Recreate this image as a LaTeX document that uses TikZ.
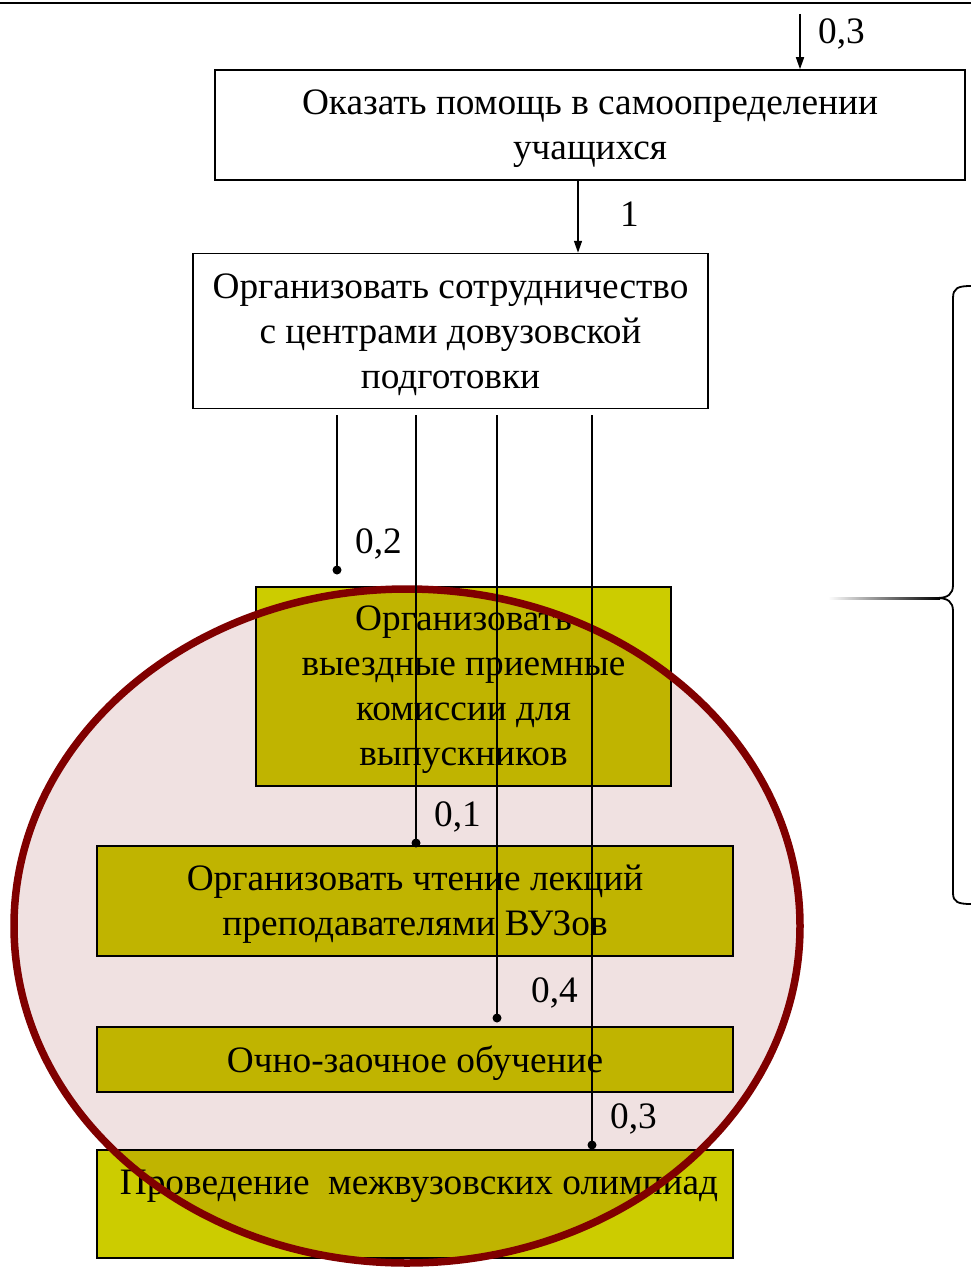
\documentclass[tikz,border=0pt]{standalone}
\usepackage{fontspec}
\setmainfont{Liberation Serif}
\usetikzlibrary{arrows.meta}
\definecolor{boxyellow}{RGB}{204,204,0}
\definecolor{pinkfill}{RGB}{240,225,225}
\definecolor{ellred}{RGB}{128,0,0}
\begin{document}
\begin{tikzpicture}[x=1pt,y=-1pt,
  txt/.style={font=\fontsize{37.3}{45}\selectfont, align=center, yshift=-3.5pt},
  wbox/.style={draw=black, line width=1.5pt, fill=white, inner sep=0pt},
  obox/.style={draw=black, line width=1.5pt, fill=boxyellow, inner sep=0pt},
  conn/.style={line width=1.5pt},
  arr/.style={line width=1.5pt, -{Triangle[length=12pt,width=8pt]}},
  dotend/.style={circle, fill=black, inner sep=0pt, minimum size=9pt},
  lbl/.style={font=\fontsize{37.3}{45}\selectfont, inner sep=0pt, yshift=-3pt}]
\useasboundingbox (0,0) rectangle (971,1268);
\fill[white] (0,0) rectangle (971,1268);
\draw[line width=2pt] (0,3) -- (971,3);

% white boxes
\node[wbox, minimum width=750, minimum height=110,
  label={[txt]center:{Оказать помощь в самоопределении\\учащихся}}] (b1) at (590,125) {};
\node[wbox, minimum width=515, minimum height=155,
  label={[txt]center:{Организовать сотрудничество\\с центрами довузовской\\подготовки}}] (b2) at (450.5,331) {};

% olive boxes
\node[obox, minimum width=415, minimum height=199,
  label={[txt]center:{Организовать\\выездные приемные\\комиссии для\\выпускников}}] (b3) at (463.5,686.5) {};
\node[obox, minimum width=636, minimum height=110,
  label={[txt]center:{Организовать чтение лекций\\преподавателями ВУЗов}}] (b4) at (415,901) {};
\node[obox, minimum width=636, minimum height=65,
  label={[txt]center:{Очно-заочное обучение}}] (b5) at (415,1059.5) {};
\node[obox, minimum width=636, minimum height=108] (b6) at (415,1204) {};
\node[txt] (t6) at (419,1183) {Проведение\ \ межвузовских олимпиад};

% ellipse overlay
\begin{scope}[blend mode=multiply]
  \fill[pinkfill] (407,926) ellipse [x radius=393, y radius=337];
\end{scope}
\draw[ellred, line width=7.5pt] (407,926) ellipse [x radius=393, y radius=337];

% top arrows
\coordinate (top) at (800,14);
\draw[arr] (top) -- (b1.north -| top);
\node[lbl, anchor=west] at (818,31) {0,3};
\draw[arr] (b1.south -| 578,0) -- (b2.north -| 578,0);
\node[lbl, anchor=west] at (620,211) {1};

% connectors from b2
\coordinate (e1) at (337,570);
\coordinate (e2) at (416,843);
\coordinate (e3) at (497,1018);
\coordinate (e4) at (592,1145);
\foreach \e in {e1,e2,e3,e4}{
  \draw[conn] (b2.south -| \e) ++(0,6) -- (\e);
  \node[dotend] at (\e) {};
}
\node[lbl, anchor=west] at (355,541) {0,2};
\node[lbl, anchor=west] at (434,814) {0,1};
\node[lbl, anchor=west] at (531,990) {0,4};
\node[lbl, anchor=west] at (610,1116) {0,3};

% brace
\draw[line width=1.8pt] (971,286) .. controls (958,286) and (953,288) .. (953,298)
  -- (953,585) .. controls (953,594) and (948,598) .. (937,598)
  .. controls (948,598) and (953,602) .. (953,611)
  -- (953,893) .. controls (953,902) and (958,904) .. (971,904);
\shade[left color=white, right color=black] (828,597) rectangle (940,599.5);
\end{tikzpicture}
\end{document}
